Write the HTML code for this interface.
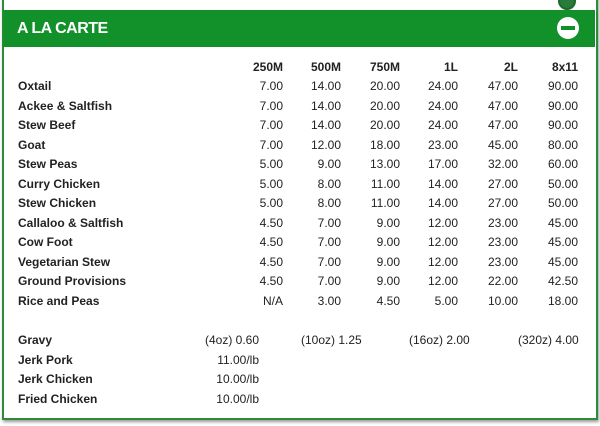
<!DOCTYPE html>
<html><head><style>
body{margin:0;width:600px;height:426px;background:#fff;position:relative;overflow:hidden;font-family:"Liberation Sans",Arial,sans-serif;}
.box{position:absolute;left:2px;top:-5px;width:592px;height:421px;border:2px solid #2e8b3a;box-shadow:1px 2px 3px #999;}
.hdr{position:absolute;left:3px;top:10px;width:592px;height:37px;background:#12902a;}
.ttl{position:absolute;left:17px;top:20px;color:#fff;font-weight:bold;font-size:16px;letter-spacing:-0.5px;}
.ic{position:absolute;left:557px;top:17px;width:22px;height:22px;border-radius:50%;background:#fff;}
.ic:after{content:"";position:absolute;left:4px;top:9px;width:14px;height:4px;background:#12902a;}
.top{position:absolute;left:558px;top:-8px;width:14px;height:14px;border-radius:50%;border:2px solid #1a6a2a;background:#2a7a3a;}
.t{position:absolute;font-size:12px;color:#222;line-height:14px;white-space:nowrap;}
.b{font-weight:bold;}
.r{text-align:right;width:60px;}
</style></head><body>
<div class="box"></div>
<div class="top"></div>
<div class="hdr"></div>
<div class="ttl">A LA CARTE</div>
<div class="ic"></div>
<div id="c"></div>
<script>
var cols=[283,341,400,458,518,578];
var h=["250M","500M","750M","1L","2L","8x11"];
var o="";
function r(x,y,t,b){o+='<div class="t r'+(b?' b':'')+'" style="left:'+(x-60)+'px;top:'+(y-7)+'px">'+t+'</div>';}
function l(x,y,t,b){o+='<div class="t'+(b?' b':'')+'" style="left:'+x+'px;top:'+(y-7)+'px">'+t+'</div>';}
h.forEach(function(t,i){r(cols[i],67,t,1);});
var rows=[["Oxtail","7.00 14.00 20.00 24.00 47.00 90.00"],["Ackee &amp; Saltfish","7.00 14.00 20.00 24.00 47.00 90.00"],["Stew Beef","7.00 14.00 20.00 24.00 47.00 90.00"],["Goat","7.00 12.00 18.00 23.00 45.00 80.00"],["Stew Peas","5.00 9.00 13.00 17.00 32.00 60.00"],["Curry Chicken","5.00 8.00 11.00 14.00 27.00 50.00"],["Stew Chicken","5.00 8.00 11.00 14.00 27.00 50.00"],["Callaloo &amp; Saltfish","4.50 7.00 9.00 12.00 23.00 45.00"],["Cow Foot","4.50 7.00 9.00 12.00 23.00 45.00"],["Vegetarian Stew","4.50 7.00 9.00 12.00 23.00 45.00"],["Ground Provisions","4.50 7.00 9.00 12.00 22.00 42.50"],["Rice and Peas","N/A 3.00 4.50 5.00 10.00 18.00"]];
rows.forEach(function(rw,k){var y=86+k*19.5;l(18,y,rw[0],1);rw[1].split(" ").forEach(function(v,i){r(cols[i],y,v);});});
l(18,340,"Gravy",1);r(259,340,"(4oz) 0.60");l(301,340,"(10oz) 1.25");l(409,340,"(16oz) 2.00");r(578,340,"(320z) 4.00");
l(18,359.5,"Jerk Pork",1);r(259,359.5,"11.00/lb");
l(18,379,"Jerk Chicken",1);r(259,379,"10.00/lb");
l(18,398.5,"Fried Chicken",1);r(259,398.5,"10.00/lb");
document.getElementById("c").innerHTML=o;
</script>
</body></html>
